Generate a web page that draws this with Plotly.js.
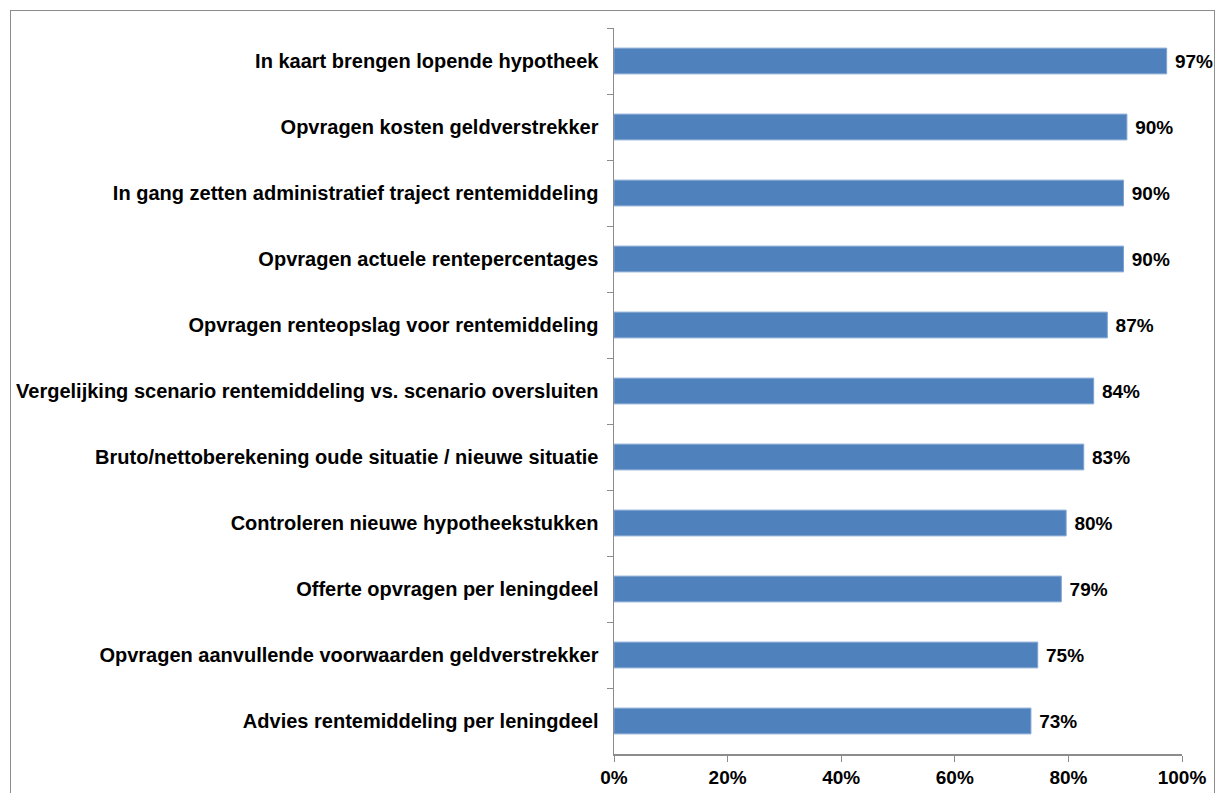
<!DOCTYPE html>
<html>
<head>
<meta charset="utf-8">
<script src="https://cdn.plot.ly/plotly-3.0.1.min.js"></script>
<style>
  html, body { margin: 0; padding: 0; background: #fff; }
  #frame { position: absolute; left: 10px; top: 10px; width: 1205px; height: 800px; border: 1.5px solid #8c8c8c; box-sizing: border-box; }
  #chart { position: absolute; left: 0; top: 0; width: 1219px; height: 793px; }
</style>
</head>
<body>
<div id="frame"></div>
<div id="chart"></div>
<script>
const categories = [
  "In kaart brengen lopende hypotheek",
  "Opvragen kosten geldverstrekker",
  "In gang zetten administratief traject rentemiddeling",
  "Opvragen actuele rentepercentages",
  "Opvragen renteopslag voor rentemiddeling",
  "Vergelijking scenario rentemiddeling vs. scenario oversluiten",
  "Bruto/nettoberekening oude situatie / nieuwe situatie",
  "Controleren nieuwe hypotheekstukken",
  "Offerte opvragen per leningdeel",
  "Opvragen aanvullende voorwaarden geldverstrekker",
  "Advies rentemiddeling per leningdeel"
];
const values = [0.973, 0.903, 0.897, 0.897, 0.8685, 0.8445, 0.827, 0.796, 0.7875, 0.746, 0.734];
const tickVals = [0, 0.2, 0.4, 0.6, 0.8, 1.0];
const tickText = ["0%", "20%", "40%", "60%", "80%", "100%"];

const trace = {
  type: "bar",
  orientation: "h",
  x: values,
  y: categories,
  marker: { color: "#4F81BD", line: { color: "#7FA3D1", width: 1 } },
  texttemplate: "\u00a0%{x:.0%}",
  textposition: "outside",
  cliponaxis: false,
  textfont: { family: "Liberation Sans, Arial, sans-serif", size: 19, color: "#000", weight: "bold" },
  hoverinfo: "none"
};

const layout = {
  width: 1219,
  height: 793,
  margin: { l: 614, r: 37, t: 28, b: 39 },
  paper_bgcolor: "rgba(0,0,0,0)",
  plot_bgcolor: "rgba(0,0,0,0)",
  showlegend: false,
  bargap: 0.61,
  font: { family: "Liberation Sans, Arial, sans-serif", size: 16, color: "#000" },
  xaxis: {
    range: [0, 1],
    tickvals: tickVals,
    ticktext: tickText,
    showgrid: false,
    zeroline: false,
    showline: true,
    linecolor: "#8c8c8c",
    linewidth: 1.5,
    ticks: "outside",
    ticklen: 6,
    tickcolor: "#8c8c8c",
    tickfont: { family: "Liberation Sans, Arial, sans-serif", size: 19, color: "#000", weight: "bold" },
    fixedrange: true
  },
  yaxis: {
    autorange: "reversed",
    showgrid: false,
    zeroline: false,
    showline: true,
    linecolor: "#8c8c8c",
    linewidth: 1.5,
    ticks: "outside",
    tickson: "boundaries",
    ticklen: 6,
    tickcolor: "#8c8c8c",
    ticklabelstandoff: 10,
    tickfont: { family: "Liberation Sans, Arial, sans-serif", size: 20, color: "#000", weight: "bold" },
    fixedrange: true
  }
};

Plotly.newPlot("chart", [trace], layout, { displayModeBar: false, staticPlot: true });
</script>
</body>
</html>
